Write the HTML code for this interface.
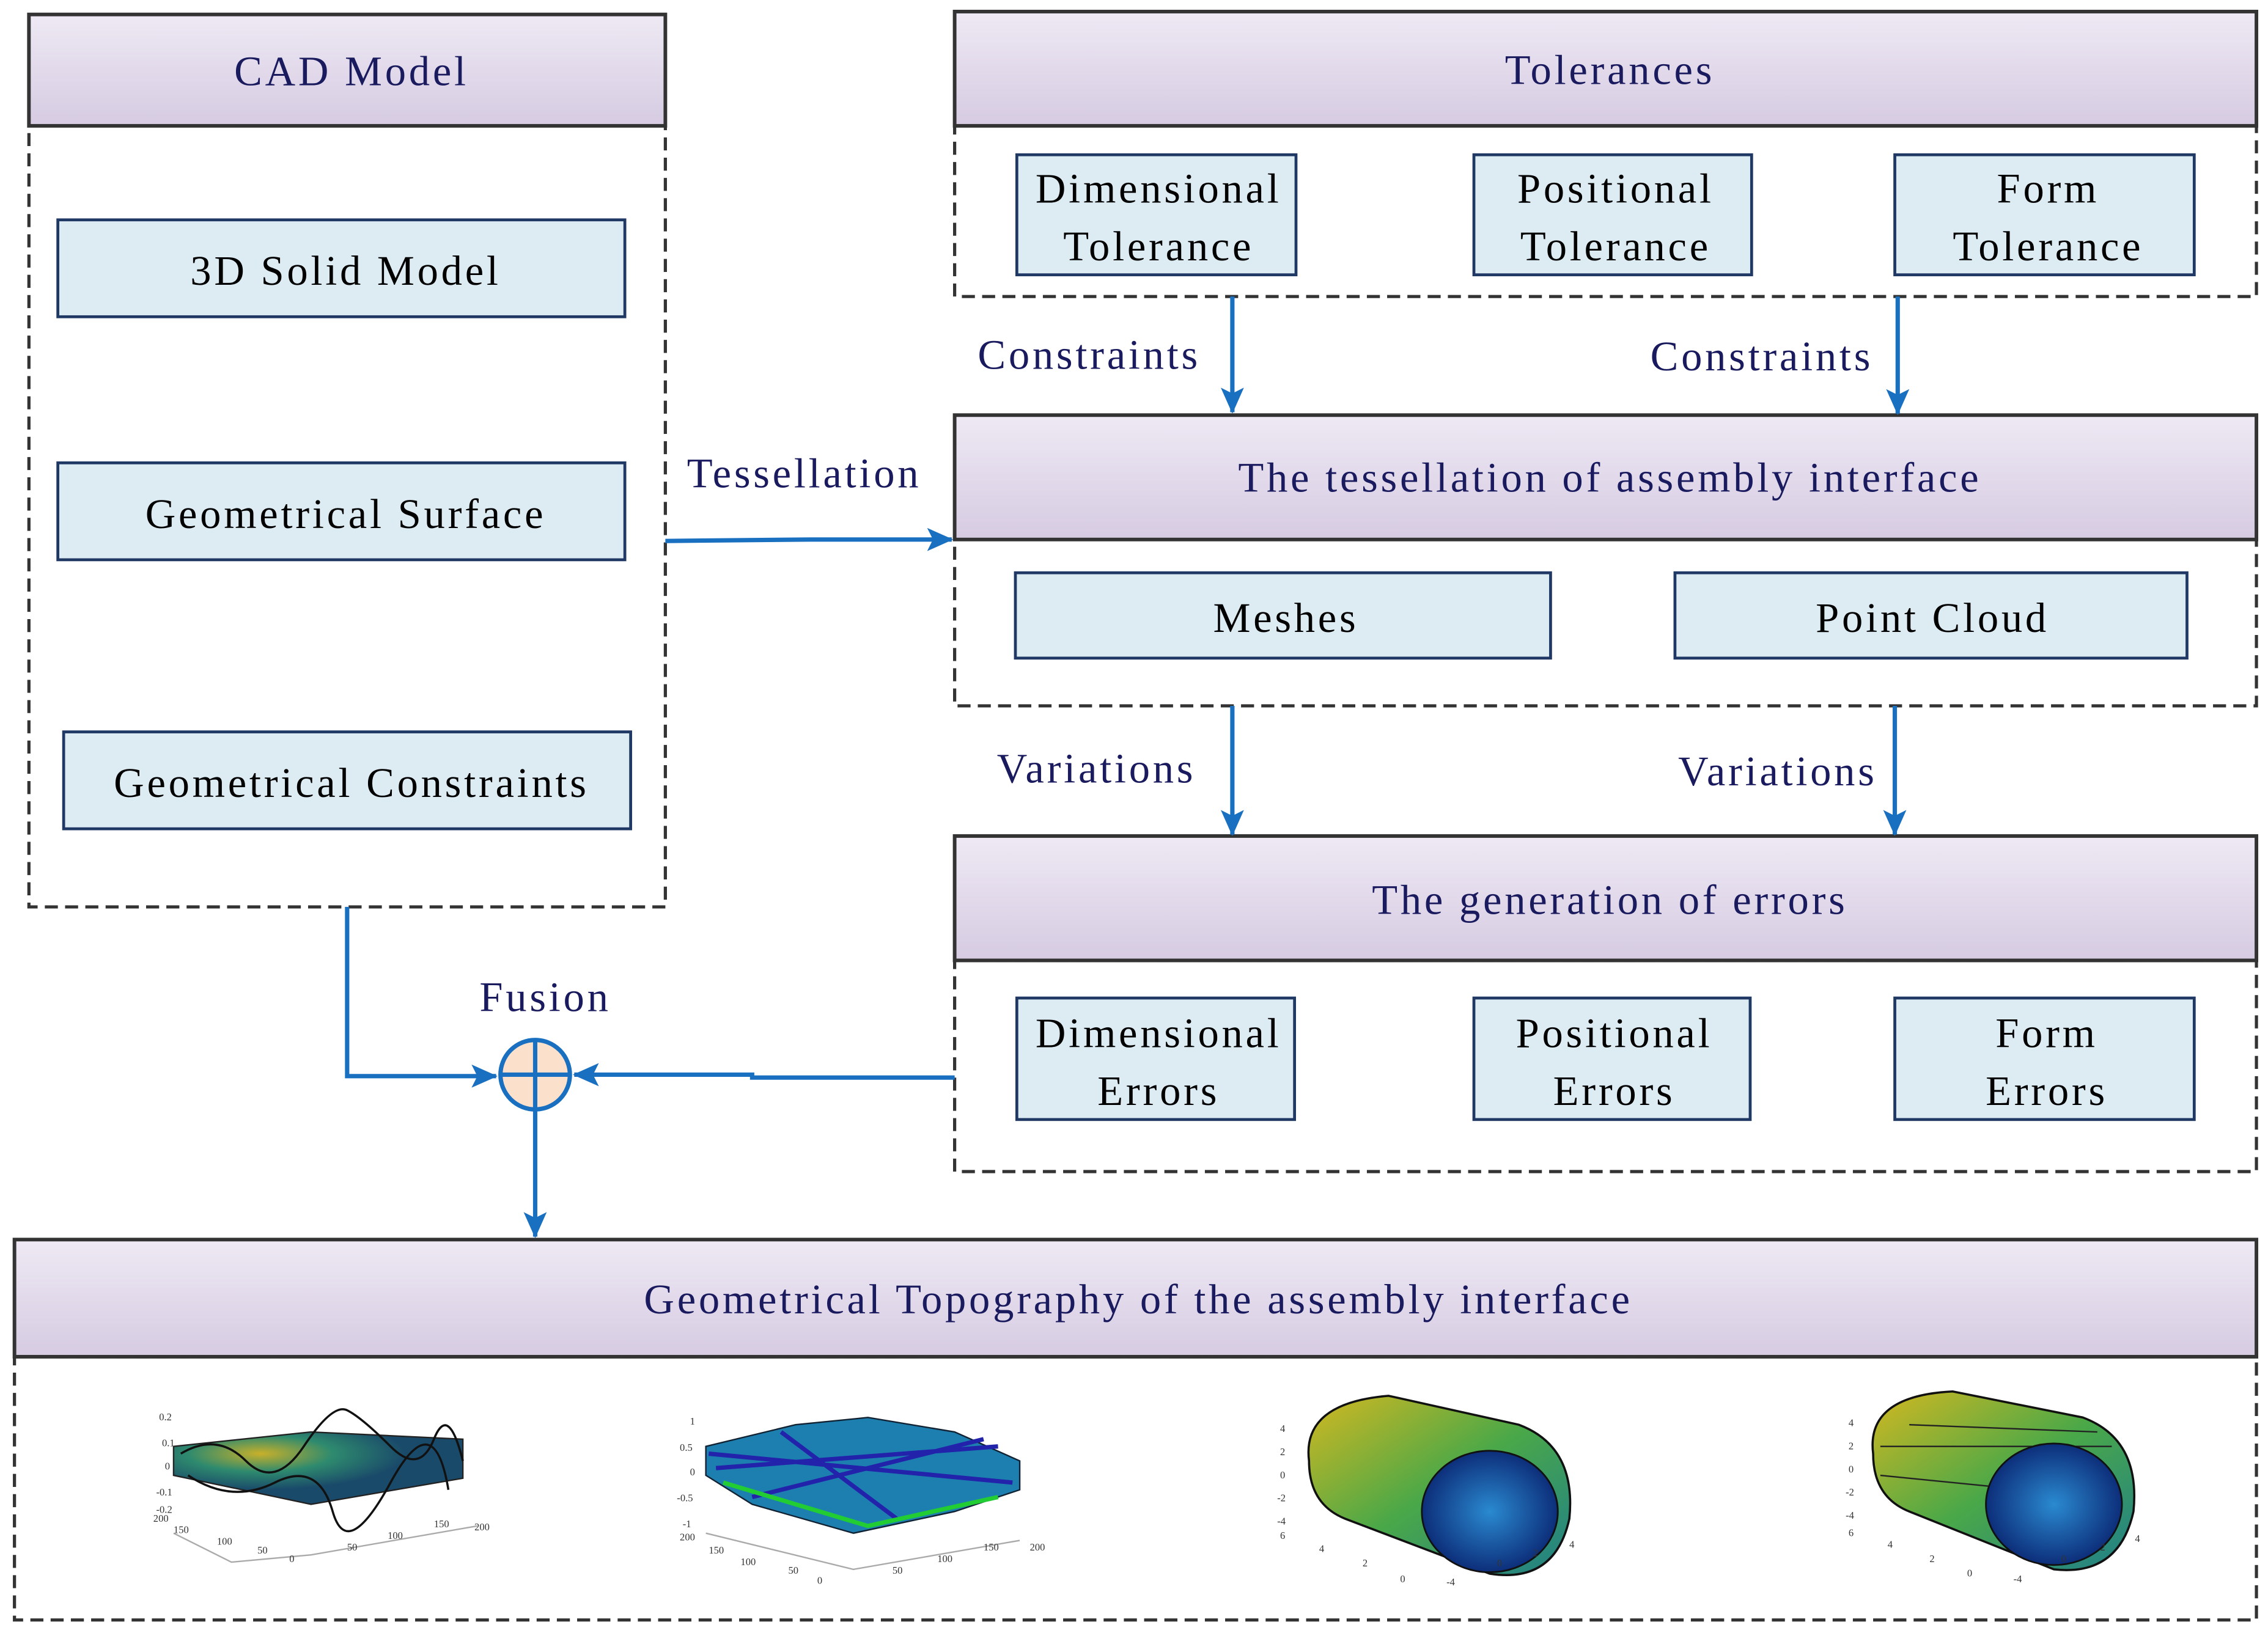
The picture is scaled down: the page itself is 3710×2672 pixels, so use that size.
<!DOCTYPE html>
<html><head><meta charset="utf-8"><style>
html,body{margin:0;padding:0;background:#fff;}
svg{display:block;}
text{font-family:"Liberation Serif",serif;}
.t text{letter-spacing:2px;}
</style></head><body>
<svg width="3710" height="2672" viewBox="0 0 1568 1129" preserveAspectRatio="none" xmlns="http://www.w3.org/2000/svg">
<defs>
<linearGradient id="hg" x1="0" y1="0" x2="0" y2="1"><stop offset="0" stop-color="#eee9f4"/><stop offset="1" stop-color="#d6cbe2"/></linearGradient>
<marker id="ab" markerWidth="18" markerHeight="16" refX="17" refY="8" orient="auto" markerUnits="userSpaceOnUse"><path d="M0,0 L18,8 L0,16 L4,8 Z" fill="#1a70c0"/></marker>
<radialGradient id="g1" cx="0.3" cy="0.3"><stop offset="0" stop-color="#c8b02a"/><stop offset="0.5" stop-color="#2e8a6e"/><stop offset="1" stop-color="#1a4a6a"/></radialGradient>
<linearGradient id="g3" x1="0" y1="0" x2="1" y2="1"><stop offset="0" stop-color="#d4b820"/><stop offset="0.5" stop-color="#4aa848"/><stop offset="1" stop-color="#1f7f8a"/></linearGradient>
<radialGradient id="g4"><stop offset="0" stop-color="#2a8ad0"/><stop offset="1" stop-color="#0d2e7a"/></radialGradient>
</defs>
<g stroke="#333" stroke-width="2.2" fill="none" stroke-dasharray="9,5">
<rect x="20" y="87" width="440" height="540"/>
<rect x="660" y="87" width="900" height="118"/>
<rect x="660" y="373" width="900" height="115"/>
<rect x="660" y="664" width="900" height="146"/>
<rect x="10" y="938" width="1550" height="182"/>
</g>
<g stroke="#333" stroke-width="2.5" fill="url(#hg)">
<rect x="20" y="10" width="440" height="77"/>
<rect x="660" y="8" width="900" height="79"/>
<rect x="660" y="287" width="900" height="86"/>
<rect x="660" y="578" width="900" height="86"/>
<rect x="10" y="857" width="1550" height="81"/>
</g>
<g class="t" fill="#1a1a5e" font-size="29" text-anchor="middle">
<text x="243" y="59">CAD Model</text>
<text x="1113" y="58">Tolerances</text>
<text x="1113" y="340">The tessellation of assembly interface</text>
<text x="1113" y="632">The generation of errors</text>
<text x="787" y="908">Geometrical Topography of the assembly interface</text>
<text x="753" y="255">Constraints</text>
<text x="1218" y="256">Constraints</text>
<text x="556" y="337">Tessellation</text>
<text x="758" y="541">Variations</text>
<text x="1229" y="543">Variations</text>
<text x="377" y="699">Fusion</text>
</g>
<g fill="#ddebf3" stroke="#1f3864" stroke-width="2">
<rect x="40" y="152" width="392" height="67"/>
<rect x="40" y="320" width="392" height="67"/>
<rect x="44" y="506" width="392" height="67"/>
<rect x="703" y="107" width="193" height="83"/>
<rect x="1019" y="107" width="192" height="83"/>
<rect x="1310" y="107" width="207" height="83"/>
<rect x="702" y="396" width="370" height="59"/>
<rect x="1158" y="396" width="354" height="59"/>
<rect x="703" y="690" width="192" height="84"/>
<rect x="1019" y="690" width="191" height="84"/>
<rect x="1310" y="690" width="207" height="84"/>
</g>
<g class="t" fill="#000" font-size="29" text-anchor="middle">
<text x="239" y="197">3D Solid Model</text>
<text x="239" y="365">Geometrical Surface</text>
<text x="243" y="551">Geometrical Constraints</text>
<text x="801" y="140">Dimensional</text><text x="801" y="180">Tolerance</text>
<text x="1117" y="140">Positional</text><text x="1117" y="180">Tolerance</text>
<text x="1416" y="140">Form</text><text x="1416" y="180">Tolerance</text>
<text x="889" y="437">Meshes</text>
<text x="1336" y="437">Point Cloud</text>
<text x="801" y="724">Dimensional</text><text x="801" y="764">Errors</text>
<text x="1116" y="724">Positional</text><text x="1116" y="764">Errors</text>
<text x="1415" y="724">Form</text><text x="1415" y="764">Errors</text>
</g>
<g stroke="#1a70c0" stroke-width="3" fill="none">
<line x1="852" y1="205" x2="852" y2="285" marker-end="url(#ab)"/>
<line x1="1312" y1="205" x2="1312" y2="286" marker-end="url(#ab)"/>
<line x1="852" y1="488" x2="852" y2="577" marker-end="url(#ab)"/>
<line x1="1310" y1="488" x2="1310" y2="577" marker-end="url(#ab)"/>
<polyline points="460,374 560,373 658,373" marker-end="url(#ab)"/>
<polyline points="240,627 240,744 343,744" marker-end="url(#ab)"/>
<polyline points="660,745 520,745 520,743 397,743" marker-end="url(#ab)"/>
<line x1="370" y1="768" x2="370" y2="855" marker-end="url(#ab)"/>
</g>
<circle cx="370" cy="743" r="24" fill="#fbe0cc" stroke="#1a70c0" stroke-width="3"/>
<line x1="346" y1="743" x2="394" y2="743" stroke="#1a70c0" stroke-width="3"/>
<line x1="370" y1="719" x2="370" y2="767" stroke="#1a70c0" stroke-width="3"/>
<g font-family="Liberation Sans" font-size="7" fill="#333">
<path d="M120,1020 L215,1040 L320,1022 L320,995 L215,990 L120,1000Z" fill="url(#g1)" stroke="#222" stroke-width="1"/>
<path d="M125,1005 Q150,990 170,1010 T210,1000 T240,975 T270,1000 T300,995 T320,1010" fill="none" stroke="#111" stroke-width="1.5"/>
<path d="M130,1020 Q160,1040 190,1025 T230,1045 T270,1025 T310,1030" fill="none" stroke="#111" stroke-width="1.5"/>
<polyline points="120,1060 160,1080 215,1075 330,1055" fill="none" stroke="#aaa"/>
<text x="110" y="982">0.2</text><text x="112" y="1000">0.1</text><text x="114" y="1016">0</text><text x="108" y="1034">-0.1</text><text x="108" y="1046">-0.2</text>
<text x="106" y="1052">200</text><text x="120" y="1060">150</text><text x="150" y="1068">100</text><text x="178" y="1074">50</text><text x="200" y="1080">0</text>
<text x="240" y="1072">50</text><text x="268" y="1064">100</text><text x="300" y="1056">150</text><text x="328" y="1058">200</text>
</g>
<g font-family="Liberation Sans" font-size="7" fill="#333">
<path d="M488,1000 L550,985 L600,980 L660,990 L705,1010 L705,1030 L660,1045 L590,1060 L520,1040 L488,1020Z" fill="#1d7fb0" stroke="#123" stroke-width="1"/>
<path d="M490,1005 L700,1025 M495,1015 L690,1000 M520,1035 L680,995 M540,990 L620,1050" stroke="#22a" stroke-width="3"/>
<path d="M500,1025 L600,1055 L690,1035" stroke="#2c3" stroke-width="3" fill="none"/>
<polyline points="488,1060 590,1085 705,1065" fill="none" stroke="#aaa"/>
<text x="477" y="985">1</text><text x="470" y="1003">0.5</text><text x="477" y="1020">0</text><text x="468" y="1038">-0.5</text><text x="472" y="1056">-1</text>
<text x="470" y="1065">200</text><text x="490" y="1074">150</text><text x="512" y="1082">100</text><text x="545" y="1088">50</text><text x="565" y="1095">0</text>
<text x="617" y="1088">50</text><text x="648" y="1080">100</text><text x="680" y="1072">150</text><text x="712" y="1072">200</text>
</g>
<g font-family="Liberation Sans" font-size="7" fill="#333">
<path d="M905,1010 Q900,970 960,965 L1050,985 Q1090,1000 1085,1050 Q1075,1095 1030,1088 L930,1050 Q905,1040 905,1010Z" fill="url(#g3)" stroke="#111" stroke-width="1.5"/>
<ellipse cx="1030" cy="1045" rx="47" ry="42" fill="url(#g4)" stroke="#111" stroke-width="1.2"/>
<text x="885" y="990">4</text><text x="885" y="1006">2</text><text x="885" y="1022">0</text><text x="883" y="1038">-2</text><text x="883" y="1054">-4</text>
<text x="885" y="1064">6</text><text x="912" y="1073">4</text><text x="942" y="1083">2</text><text x="968" y="1094">0</text>
<text x="1000" y="1096">-4</text><text x="1035" y="1083">0</text><text x="1060" y="1076">2</text><text x="1085" y="1070">4</text>
<path d="M1295,1005 Q1290,965 1350,962 L1440,980 Q1480,995 1475,1045 Q1465,1090 1420,1085 L1320,1045 Q1295,1035 1295,1005Z" fill="url(#g3)" stroke="#111" stroke-width="1.5"/>
<path d="M1300,1000 L1460,1000 M1300,1020 L1400,1030 M1320,985 L1450,990" stroke="#222" stroke-width="1" fill="none"/>
<ellipse cx="1420" cy="1040" rx="47" ry="42" fill="url(#g4)" stroke="#111" stroke-width="1.2"/>
<text x="1278" y="986">4</text><text x="1278" y="1002">2</text><text x="1278" y="1018">0</text><text x="1276" y="1034">-2</text><text x="1276" y="1050">-4</text>
<text x="1278" y="1062">6</text><text x="1305" y="1070">4</text><text x="1334" y="1080">2</text><text x="1360" y="1090">0</text>
<text x="1392" y="1094">-4</text><text x="1425" y="1080">0</text><text x="1452" y="1072">2</text><text x="1476" y="1066">4</text>
</g>
</svg>
</body></html>
